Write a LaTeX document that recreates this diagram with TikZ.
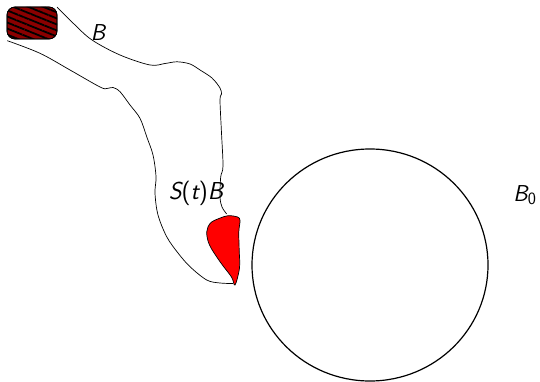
\documentclass[tikz,border=0pt]{standalone}
\usetikzlibrary{patterns.meta}
\definecolor{darkred}{HTML}{8B0000}
\begin{document}
\begin{tikzpicture}[x=1pt,y=-1pt,
  contour/.style={line width=0.7pt, black},
  lbl/.style={font=\fontsize{23}{27}\selectfont\sffamily, inner sep=0pt}]
\useasboundingbox (0,0) rectangle (540,382);
% hatched rounded box
\draw[contour, fill=darkred, rounded corners=8pt] (7,7) rectangle (57,39);
\begin{scope}
\clip[rounded corners=8pt] (7,7) rectangle (57,39);
\fill[pattern={Lines[angle=-22,distance=5.6pt,line width=1.8pt]}, pattern color=black] (7,7) rectangle (57,39);
\end{scope}
\draw[contour, rounded corners=8pt] (7,7) rectangle (57,39);
% upper / right boundary
\draw[contour] plot[smooth, tension=0.55] coordinates {
  (57,7) (74,24) (92,40) (120,55) (150,65) (165,63.5) (177,61.8) (190,64) (200,70) (212,78) (220,88)
  (221.5,94) (220,100) (221.5,133) (223,166) (220.7,177) (220,197) (222,207) (226.7,214) };
% lower / left boundary
\draw[contour] plot[smooth, tension=0.55] coordinates {
  (7.3,40.7) (40,53.3) (70,70) (100,87) (107,88.5) (113,87.5) (120,91.7) (130,105) (140,118.3)
  (146.7,136.7) (153,155) (156,176.7) (155,193.3) (158,215) (166.7,236.7) (178,253) (190,266.7)
  (206.7,280) (220,283) (233,283.5) };
% red blob
\draw[contour, fill=red] plot[smooth cycle, tension=0.55] coordinates {
  (228,215.7) (237.5,217) (240,220.5) (238.8,232) (239.2,250) (239.5,268) (235,285)
  (231.5,277) (220,261.7) (209.5,245) (206.7,232) (210.5,223) (219,218.5) };
% ball B0
\draw[line width=1.2pt] (370,265) circle[x radius=118, y radius=116];
% labels
\node[lbl] (lblB) at (98,33) {\slshape B};
\node[lbl, font=\fontsize{24.5}{28}\selectfont\sffamily] (lblS) at (196,193) {\slshape S\upshape(\slshape t\upshape)\slshape B};
\node[lbl] (lblB0) at (525,195) {\slshape B\upshape$_{\mathsf{0}}$};
\end{tikzpicture}
\end{document}
